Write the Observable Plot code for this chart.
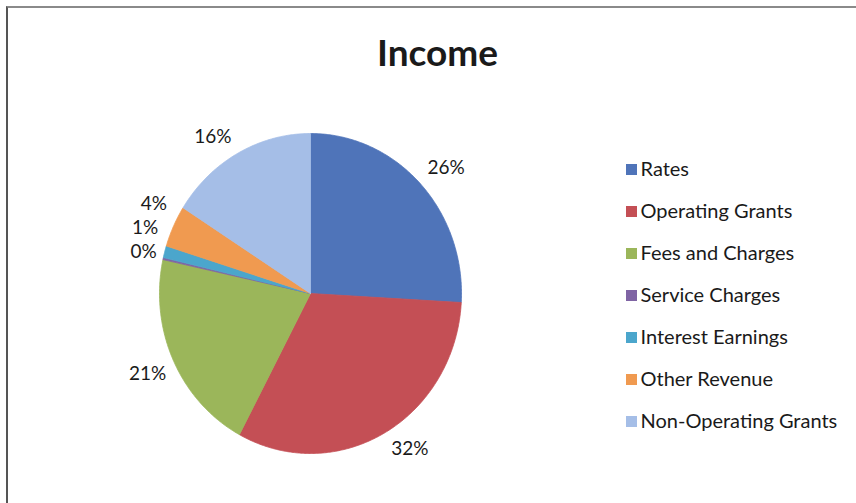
<!DOCTYPE html>
<html>
<head>
<meta charset="utf-8">
<script src="https://cdn.jsdelivr.net/npm/d3@7"></script>
<script src="https://cdn.jsdelivr.net/npm/@observablehq/plot@0.6"></script>
<style>
  html, body { margin: 0; padding: 0; background: #fff; }
  #wrap { position: relative; width: 856px; height: 503px; overflow: hidden; background: #fff; font-family: Lato, "Open Sans", sans-serif; }
  #frame { position: absolute; left: 6px; top: 6px; width: 900px; height: 600px; border-left: 2px solid #555; border-top: 2px solid #8a8a8a; box-sizing: border-box; }
  #title { position: absolute; left: 0; width: 875px; top: 33px; text-align: center; font: bold 37px Lato, sans-serif; line-height: 1; color: #1a1a1a; }
  .layer { position: absolute; left: 0; top: 0; }
</style>
</head>
<body>
<div id="wrap">
  <div id="frame"></div>
  <div id="title">Income</div>
  <div id="pie" class="layer"></div>
  <div id="legend" class="layer"></div>
</div>
<script>
// ---- data ----
const categories = ["Rates", "Operating Grants", "Fees and Charges", "Service Charges", "Interest Earnings", "Other Revenue", "Non-Operating Grants"];
const values = [25.9, 31.9, 20.6, 0.2, 1.2, 4.2, 16.0];
const labels = ["26%", "32%", "21%", "0%", "1%", "4%", "16%"];
const colors = ["#4f74b9", "#c44f55", "#9bb65a", "#7f64a4", "#4ba6cc", "#f09a50", "#a5bee7"];

// ---- geometry derived from the data ----
const pie = d3.pie().sort(null).value(d => d.value).startAngle(0).endAngle(2 * Math.PI);
const arcs = pie(categories.map((name, i) => ({name, value: values[i], label: labels[i]})));

const poly = [];
for (const a of arcs) {
  const n = Math.max(2, Math.ceil((a.endAngle - a.startAngle) / (Math.PI / 360)));
  poly.push({name: a.data.name, x: 0, y: 0});
  for (let k = 0; k <= n; k++) {
    const t = a.startAngle + (a.endAngle - a.startAngle) * k / n;
    poly.push({name: a.data.name, x: Math.sin(t), y: Math.cos(t)});
  }
  poly.push({name: a.data.name, x: 0, y: 0});
}

// pixel extents of the (slightly elliptical) pie
const RX = 151, RY = 160;
const clamp = v => Math.max(-1, Math.min(1, v));
const labelPos = arcs.map(a => {
  const m = (a.startAngle + a.endAngle) / 2;
  const s = Math.sin(m), c = Math.cos(m);
  const hw = a.data.label.length * 6.3, hh = 9, gap = 7;
  return {
    label: a.data.label,
    side: s < 0 ? "left" : "right",
    x: s + clamp(s / 0.5) * (hw + gap) / RX,
    y: c + clamp(c / 0.5) * (hh + gap) / RY
  };
});
// avoid overlapping labels on the left side (going upward)
const minGap = 24 / RY;
let prev = null;
for (const p of labelPos) {
  if (p.side !== "left") continue;
  if (prev && p.y < prev.y + minGap) p.y = prev.y + minGap;
  prev = p;
}

const pieChart = Plot.plot({
  width: 856,
  height: 503,
  margin: 0,
  style: {background: "transparent", overflow: "visible"},
  x: {domain: [-1, 1], range: [310 - RX, 310 + RX], axis: null},
  y: {domain: [-1, 1], range: [293 + RY, 293 - RY], axis: null},
  color: {domain: categories, range: colors},
  marks: [
    Plot.line(poly, {x: "x", y: "y", z: "name", fill: "name", stroke: "name", strokeWidth: 0.8, curve: "linear"}),
    Plot.text(labelPos, {x: "x", y: "y", text: "label", fontSize: 19, fontFamily: "Lato, sans-serif", fill: "#1a1a1a"})
  ]
});
document.getElementById("pie").appendChild(pieChart);

const legendChart = Plot.plot({
  width: 856,
  height: 503,
  margin: 0,
  style: {background: "transparent", overflow: "visible"},
  x: {domain: [0, 1], range: [631, 840], axis: null},
  y: {type: "point", domain: categories, range: [166, 423], padding: 0, axis: null},
  color: {domain: categories, range: colors},
  marks: [
    Plot.dot(categories, {x: () => 0, y: d => d, fill: d => d, symbol: "square", r: 6.2, stroke: "none"}),
    Plot.text(categories, {x: () => 0, y: d => d, text: d => d, dx: 9, textAnchor: "start", fontSize: 20, fontFamily: "Lato, sans-serif", fill: "#1a1a1a"})
  ]
});
document.getElementById("legend").appendChild(legendChart);
</script>
</body>
</html>
